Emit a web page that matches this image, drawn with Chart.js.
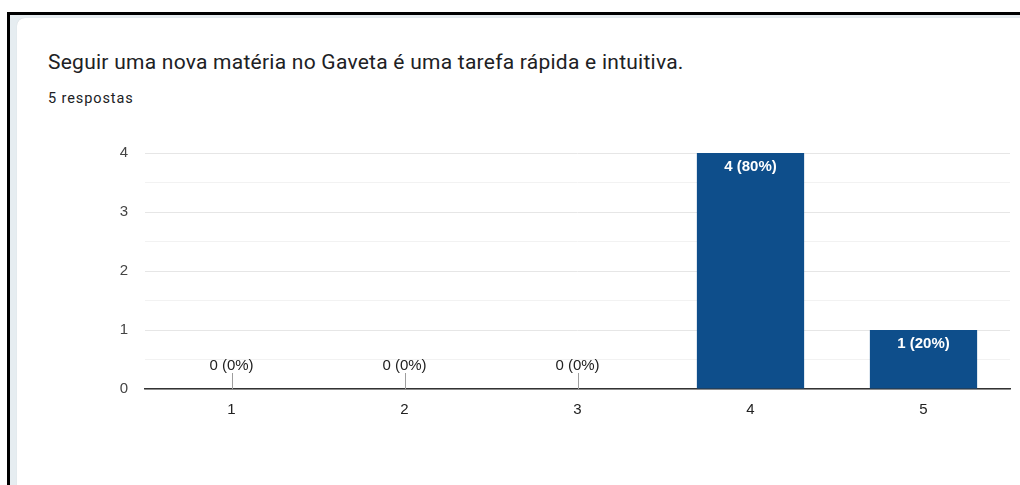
<!DOCTYPE html>
<html>
<head>
<meta charset="utf-8">
<script src="https://cdn.jsdelivr.net/npm/chart.js@4"></script>
<style>
    html, body { margin: 0; padding: 0; background: #fff; }
    body { width: 1020px; height: 485px; position: relative; overflow: hidden; }
    .frame {
        position: absolute; left: 7px; top: 12px; width: 1030px; height: 500px;
        border-top: 3px solid #000; border-left: 3px solid #000;
        background: #e6edf1;
    }
    .card {
        position: absolute; left: 17px; top: 18px; width: 1030px; height: 500px;
        background: #fff; border-radius: 8px;
        box-shadow: 0 0 1px rgba(0,0,0,0.15);
    }
    .title {
        position: absolute; left: 48px; top: 50px;
        font-family: Roboto, Arial, sans-serif; font-size: 21px; letter-spacing: 0.25px; color: #202124;
    }
    .sub {
        position: absolute; left: 48px; top: 90px;
        font-family: Roboto, Arial, sans-serif; font-size: 14.5px; letter-spacing: 0.9px; color: #202124;
    }
    #wrap { position: absolute; left: 100px; top: 127px; width: 920px; height: 293px; }
</style>
</head>
<body>
<div class="frame"></div>
<div class="card"></div>
<div class="title">Seguir uma nova matéria no Gaveta é uma tarefa rápida e intuitiva.</div>
<div class="sub">5 respostas</div>
<div id="wrap"><canvas id="chart"></canvas></div>
<script>
// Chart data
const categories = ['1', '2', '3', '4', '5'];
const counts = [0, 0, 0, 4, 1];
const percents = [0, 0, 0, 80, 20];

const labelFont = 'Arial, "Liberation Sans", sans-serif';

// Value labels drawn over / above each bar
const barLabels = {
    id: 'barLabels',
    afterDatasetsDraw(chart) {
        const ctx = chart.ctx;
        const meta = chart.getDatasetMeta(0);
        ctx.save();
        ctx.textAlign = 'center';
        ctx.textBaseline = 'middle';
        meta.data.forEach((bar, i) => {
            const text = `${counts[i]} (${percents[i]}%)`;
            if (counts[i] === 0) {
                // zero bars get a small stem with the label above it
                ctx.strokeStyle = '#9e9e9e';
                ctx.lineWidth = 1;
                ctx.beginPath();
                ctx.moveTo(Math.round(bar.x) + 0.5, bar.base);
                ctx.lineTo(Math.round(bar.x) + 0.5, bar.base - 16);
                ctx.stroke();
                ctx.fillStyle = '#222';
                ctx.font = '15px ' + labelFont;
                ctx.fillText(text, bar.x, bar.base - 23);
            } else {
                ctx.fillStyle = '#fff';
                ctx.font = 'bold 15px ' + labelFont;
                ctx.fillText(text, bar.x, bar.y + 14);
            }
        });
        ctx.restore();
    }
};

const ctx = document.getElementById('chart').getContext('2d');
new Chart(ctx, {
    type: 'bar',
    data: {
        labels: categories,
        datasets: [{
            data: counts,
            backgroundColor: '#0e4e8b',
            categoryPercentage: 0.62,
            barPercentage: 1
        }]
    },
    options: {
        responsive: true,
        maintainAspectRatio: false,
        animation: false,
        layout: { padding: { top: 13, right: 10, left: 0, bottom: 0 } },
        plugins: {
            legend: { display: false },
            tooltip: { enabled: false }
        },
        scales: {
            y: {
                min: 0,
                max: 4,
                afterFit: (scale) => { scale.width = 45; },
                border: { display: false },
                grid: {
                    drawTicks: false,
                    color: (c) => c.tick && Number.isInteger(c.tick.value) ? '#e6e6e6' : '#f2f2f2'
                },
                ticks: {
                    stepSize: 0.5,
                    padding: 17,
                    color: '#444',
                    font: { family: labelFont, size: 15 },
                    callback: (v) => Number.isInteger(v) ? v : ''
                }
            },
            x: {
                afterFit: (scale) => { scale.height = 31; },
                border: { display: true, color: '#333', width: 1.5 },
                grid: { display: false },
                ticks: {
                    padding: 4,
                    color: '#222',
                    font: { family: labelFont, size: 15 }
                }
            }
        }
    },
    plugins: [barLabels]
});
</script>
</body>
</html>
